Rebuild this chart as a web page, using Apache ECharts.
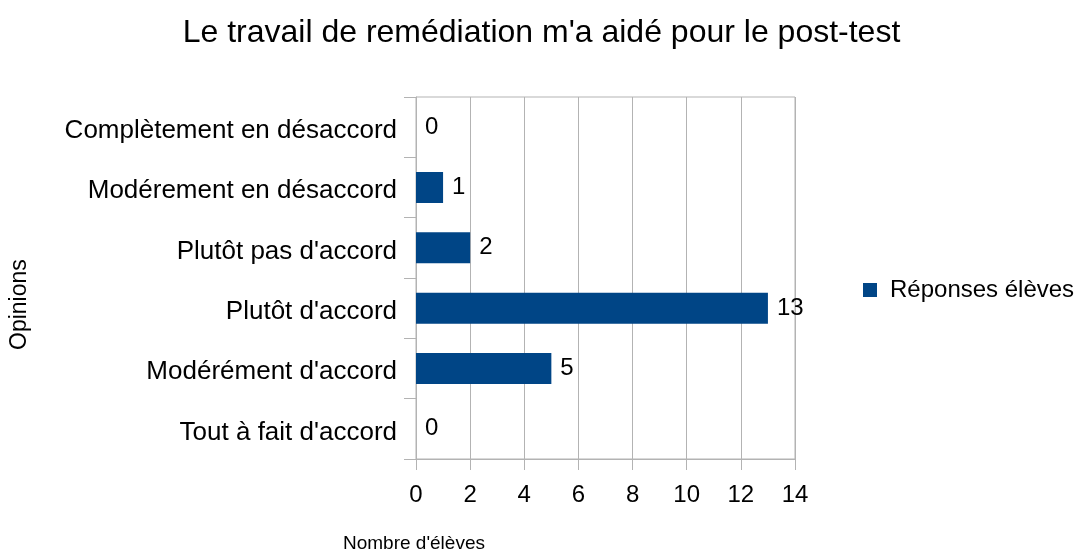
<!DOCTYPE html>
<html>
<head>
<meta charset="utf-8">
<script src="https://cdn.jsdelivr.net/npm/echarts@6/dist/echarts.min.js"></script>
<style>
  html, body { margin: 0; padding: 0; background: #fff; }
  #chart { width: 1083px; height: 555px; }
</style>
</head>
<body>
<div id="chart"></div>
<script>
// opinions, top to bottom
const opinions = [
  "Complètement en désaccord",
  "Modérement en désaccord",
  "Plutôt pas d'accord",
  "Plutôt d'accord",
  "Modérément d'accord",
  "Tout à fait d'accord"
];
const reponses = [0, 1, 2, 13, 5, 0];
const xTicks = { min: 0, max: 14, interval: 2 };

const font = "'Liberation Sans', Arial, sans-serif";
const gridColor = "#b3b3b3";

const chart = echarts.init(document.getElementById("chart"));
chart.setOption({
  animation: false,
  textStyle: { fontFamily: font, color: "#000" },
  title: {
    text: "Le travail de remédiation m'a aidé pour le post-test",
    left: "center",
    top: 12,
    textStyle: { fontFamily: font, fontSize: 32, fontWeight: "normal", color: "#000" }
  },
  legend: {
    left: 858,
    top: 273,
    icon: "rect",
    itemWidth: 14,
    itemHeight: 14,
    textStyle: { fontFamily: font, fontSize: 24, color: "#000", padding: [0, 0, 0, 8] },
    data: ["Réponses élèves"]
  },
  grid: {
    left: 416,
    right: 1083 - 795,
    top: 97,
    bottom: 555 - 459,
    show: true,
    borderColor: gridColor,
    borderWidth: 1
  },
  xAxis: {
    type: "value",
    min: xTicks.min,
    max: xTicks.max,
    interval: xTicks.interval,
    axisLine: { show: true, lineStyle: { color: gridColor } },
    axisTick: { show: true, length: 11, lineStyle: { color: gridColor } },
    splitLine: { show: true, lineStyle: { color: gridColor } },
    axisLabel: { margin: 24, fontSize: 24, color: "#000", fontFamily: font }
  },
  yAxis: {
    type: "category",
    inverse: true,
    data: opinions,
    axisLine: { show: true, lineStyle: { color: gridColor } },
    axisTick: { show: true, length: 12, lineStyle: { color: gridColor } },
    splitLine: { show: false },
    axisLabel: {
      margin: 19,
      formatter: (v) => "{c|" + v + "}",
      rich: {
        c: { fontSize: 26, color: "#000", fontFamily: font, padding: [7, 0, 0, 0] }
      }
    }
  },
  graphic: [
    {
      type: "text",
      left: 343,
      top: 534,
      style: { text: "Nombre d'élèves", fontSize: 19, fontFamily: font, fill: "#000" }
    },
    {
      type: "text",
      x: 8,
      y: 350,
      rotation: Math.PI / 2,
      style: { text: "Opinions", fontSize: 23, fontFamily: font, fill: "#000" }
    }
  ],
  series: [
    {
      name: "Réponses élèves",
      type: "bar",
      data: reponses,
      barWidth: 31,
      itemStyle: { color: "#004586" },
      label: {
        show: true,
        position: "right",
        distance: 9,
        fontSize: 24,
        color: "#000",
        fontFamily: font,
        padding: [3, 0, 0, 0]
      }
    }
  ]
});
</script>
</body>
</html>
